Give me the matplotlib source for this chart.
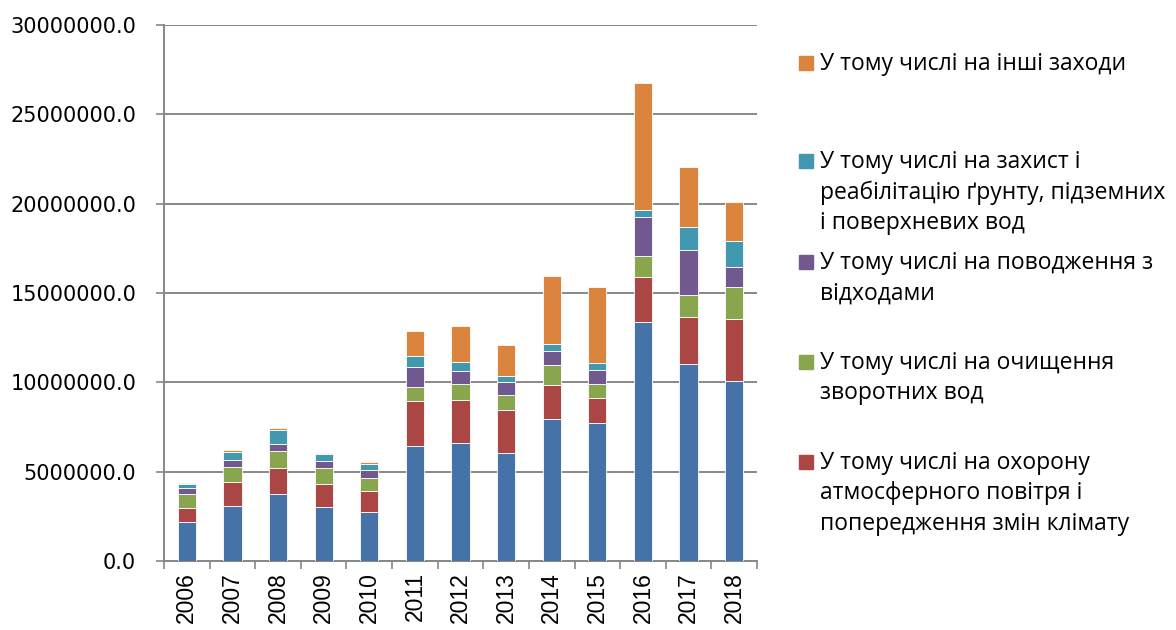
import matplotlib
matplotlib.use("Agg")
import matplotlib.pyplot as plt
import numpy as np
from matplotlib.patches import Rectangle

years = ["2006", "2007", "2008", "2009", "2010", "2011", "2012", "2013",
         "2014", "2015", "2016", "2017", "2018"]

# values in millions
base_blue = [2.20, 3.09, 3.74, 3.05, 2.76, 6.45, 6.60, 6.02, 7.97, 7.70, 13.40, 11.03, 10.10]
air_red = [0.76, 1.34, 1.46, 1.25, 1.15, 2.50, 2.43, 2.41, 1.88, 1.40, 2.50, 2.60, 3.47]
water_green = [0.78, 0.84, 0.94, 0.92, 0.73, 0.77, 0.87, 0.88, 1.12, 0.82, 1.16, 1.27, 1.74]
waste_purple = [0.36, 0.39, 0.41, 0.37, 0.47, 1.14, 0.71, 0.71, 0.78, 0.77, 2.20, 2.49, 1.12]
soil_teal = [0.20, 0.43, 0.81, 0.41, 0.31, 0.64, 0.54, 0.32, 0.38, 0.37, 0.41, 1.29, 1.47]
other_orange = [0.08, 0.10, 0.11, 0.07, 0.10, 1.38, 1.99, 1.75, 3.81, 4.26, 7.08, 3.36, 2.22]

labels = [
    "_blue",
    "У тому числі на охорону\nатмосферного повітря і\nпопередження змін клімату",
    "У тому числі на очищення\nзворотних вод",
    "У тому числі на поводження з\nвідходами",
    "У тому числі на захист і\nреабілітацію ґрунту, підземних\nі поверхневих вод",
    "У тому числі на інші заходи",
]
colors = ["#4572A7", "#AA4643", "#89A54E", "#71588F", "#4198AF", "#DB843D"]

series = [base_blue, air_red, water_green, waste_purple, soil_teal, other_orange]

plt.rcParams['font.family'] = ['Open Sans', 'DejaVu Sans']

fig = plt.figure(figsize=(11.76, 6.3), dpi=100)
ax = fig.add_axes([164/1176, (630-561)/630, (757-164)/1176, (561-25)/630])

x = np.arange(len(years))
bottom = np.zeros(len(years))
for vals, c in zip(series, colors):
    v = np.array(vals) * 1e6
    ax.bar(x, v, 0.4, bottom=bottom, color=c, edgecolor='white', linewidth=0.6, zorder=3)
    bottom += v

ax.set_xlim(-0.5, len(years) - 0.5)
ax.set_ylim(0, 30e6)
yt = np.arange(0, 30e6 + 1, 5e6)
ax.set_yticks(yt)
ax.set_yticklabels([f"{t:.1f}" for t in yt], fontsize=15, family=['DejaVu Sans'])
ax.set_xticks(x)
ax.set_xticklabels(years, rotation=90, fontsize=16.5, family=['Liberation Sans'], va='top')
ax.set_xticks(np.arange(-0.5, len(years), 1), minor=True)
ax.tick_params(axis='x', which='major', length=0, pad=8)
ax.tick_params(axis='x', which='minor', length=6, color='#888888', width=1.2)
ax.tick_params(axis='y', length=6, color='#888888', width=1.2, pad=14)
ax.grid(axis='y', color='#888888', linewidth=1.4, zorder=0)
for s in ['top', 'right']:
    ax.spines[s].set_visible(False)
for s in ['left', 'bottom']:
    ax.spines[s].set_color('#888888')
    ax.spines[s].set_linewidth(1.4)

# legend drawn manually, top entry first (reverse of stack order, blue not listed)
leg_y = [63, 161, 262, 362, 462]
order = [5, 4, 3, 2, 1]
for yy, idx in zip(leg_y, order):
    fig.patches.append(Rectangle((799/1176, 1 - (yy + 7)/630), 14/1176, 14/630,
                                 transform=fig.transFigure, color=colors[idx]))
    fig.text(820/1176, 1 - (yy - 11)/630, labels[idx], fontsize=16.5, va='top',
             ha='left', linespacing=1.35)

fig.savefig("out.png", dpi=100)
